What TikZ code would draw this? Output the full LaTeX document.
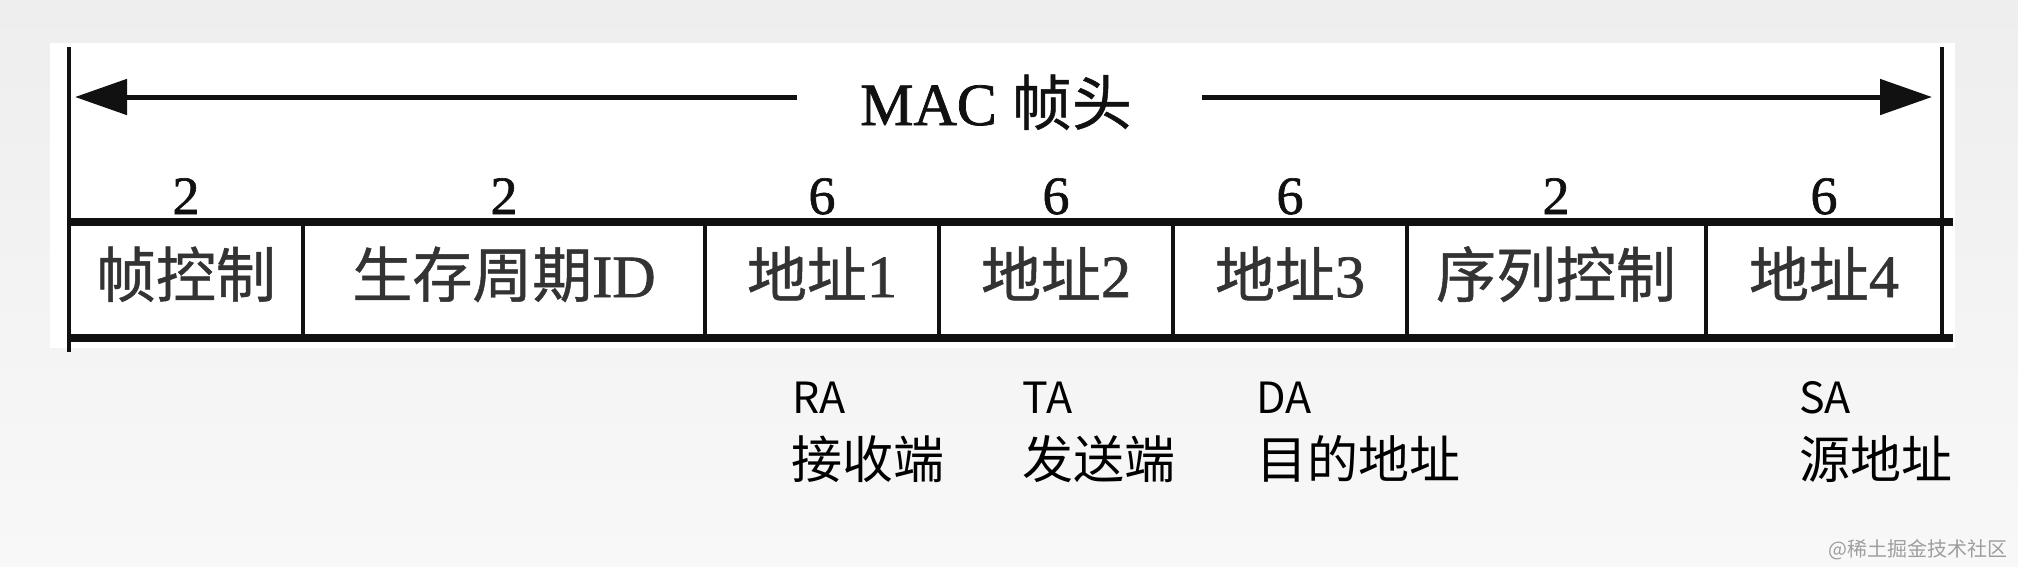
\documentclass[tikz,border=0pt]{standalone}
\usepackage{fontspec}
\setmainfont{Liberation Serif}
\newfontfamily\serifheavy[FakeBold=1.2]{Liberation Serif}
\newfontfamily\cjk{Noto Sans CJK SC}
\newfontfamily\cjkheavy[FakeBold=0.8]{Noto Sans CJK SC}
\usetikzlibrary{arrows.meta}
\definecolor{bgtop}{HTML}{EEEEEE}
\definecolor{bgbot}{HTML}{F8F8F8}
\definecolor{inkc}{HTML}{111111}
\definecolor{fieldtxt}{HTML}{333333}
\definecolor{wmark}{HTML}{9E9E9E}
\tikzset{
  rule/.style={draw=inkc, line width=3.5pt},
  thickrule/.style={draw=inkc, line width=8pt},
  divider/.style={draw=inkc, line width=4pt},
  hdrarrow/.style={draw=inkc, line width=5pt, -{Triangle[length=52pt,width=35pt]}},
  fieldtext/.style={anchor=base, inner sep=0pt, text=fieldtxt, font=\serifheavy\fontsize{60}{60}\selectfont},
  sizetext/.style={anchor=base, inner sep=0pt, text=inkc, font=\serifheavy\fontsize{54}{54}\selectfont},
  abbr/.style={anchor=base west, inner sep=0pt, text=black, font=\cjk\fontsize{43}{43}\selectfont},
  meaning/.style={anchor=base west, inner sep=0pt, text=black, font=\cjk\fontsize{51}{51}\selectfont},
}
\begin{document}
\begin{tikzpicture}[x=1pt,y=-1pt]
\useasboundingbox (0,0) rectangle (2018,566);
\shade[top color=bgtop, bottom color=bgbot] (0,0) rectangle (2018,566);
\fill[white] (50,43) rectangle (1955,348);

% outer vertical rules
\coordinate (vlt) at (69,47);
\coordinate (vlb) at (69,352);
\coordinate (vrt) at (1942,47);
\coordinate (vrb) at (1942,342);
\draw[rule] (vlt) -- (vlb);
\draw[rule] (vrt) -- (vrb);

% header arrow
\node[anchor=base, inner sep=0pt, text=inkc, font=\serifheavy\fontsize{60}{60}\selectfont] (mac) at (996,125) {MAC {\cjkheavy 帧头}};
\coordinate (hl) at (797,97);
\coordinate (hr) at (1202,97);
\coordinate (tipL) at (75,97);
\coordinate (tipR) at (1932,97);
\draw[hdrarrow] (hl) -- (tipL);
\draw[hdrarrow] (hr) -- (tipR);

% field row
\draw[thickrule] (69,222) -- (1953,222);
\draw[thickrule] (69,338) -- (1953,338);
\foreach \x in {303,705,939,1173,1407,1706} {
  \draw[divider] (\x,220) -- (\x,340);
}

\node[fieldtext] (f1) at (186,297) {\cjkheavy 帧控制};
\node[fieldtext] (f2) at (504,297) {{\cjkheavy 生存周期}ID};
\node[fieldtext] (f3) at (822,297) {{\cjkheavy 地址}1};
\node[fieldtext] (f4) at (1056,297) {{\cjkheavy 地址}2};
\node[fieldtext] (f5) at (1290,297) {{\cjkheavy 地址}3};
\node[fieldtext] (f6) at (1556,297) {\cjkheavy 序列控制};
\node[fieldtext] (f7) at (1824,297) {{\cjkheavy 地址}4};

\node[sizetext] (s1) at (186,214) {2};
\node[sizetext] (s2) at (504,214) {2};
\node[sizetext] (s3) at (822,214) {6};
\node[sizetext] (s4) at (1056,214) {6};
\node[sizetext] (s5) at (1290,214) {6};
\node[sizetext] (s6) at (1556,214) {2};
\node[sizetext] (s7) at (1824,214) {6};

% annotations
\node[abbr] (ra) at (792,413) {RA};
\node[abbr] (ta) at (1022,413) {TA};
\node[abbr] (da) at (1256,413) {DA};
\node[abbr] (sa) at (1799,413) {SA};
\node[meaning] (ram) at (791,478) {接收端};
\node[meaning] (tam) at (1022,478) {发送端};
\node[meaning] (dam) at (1256,478) {目的地址};
\node[meaning] (sam) at (1799,478) {源地址};

% watermark
\node[anchor=base east, inner sep=0pt, text=wmark, font=\cjk\fontsize{20}{20}\selectfont] (wm) at (2008,556) {@稀土掘金技术社区};
\end{tikzpicture}
\end{document}
